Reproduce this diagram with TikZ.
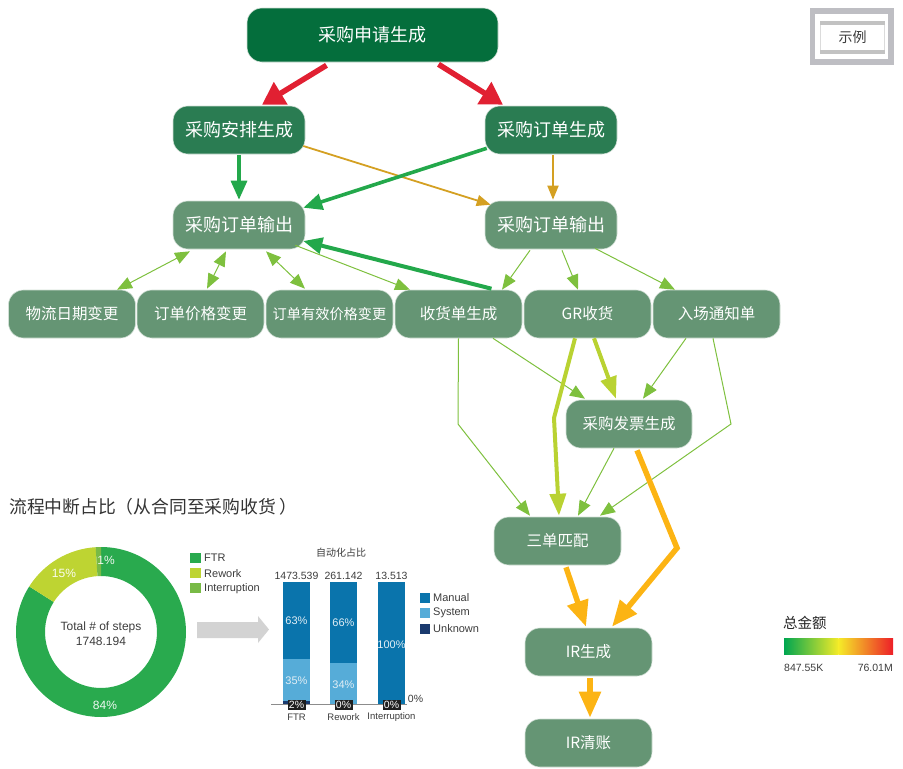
\documentclass[tikz,border=0pt]{standalone}
\usepackage{fontspec}
\setmainfont{Liberation Sans}
\newfontfamily\cjk{Noto Sans CJK SC}
\usetikzlibrary{arrows.meta,calc}
\definecolor{cDark}{RGB}{4,110,60}
\definecolor{cMid}{RGB}{42,124,82}
\definecolor{cNode}{RGB}{101,149,116}
\definecolor{cRed}{RGB}{225,32,50}
\definecolor{cGreen}{RGB}{35,168,75}
\definecolor{cGold}{RGB}{212,160,34}
\definecolor{cThin}{RGB}{126,192,62}
\definecolor{cLime}{RGB}{185,210,50}
\definecolor{cOrange}{RGB}{252,180,20}
\definecolor{cFTR}{RGB}{41,170,78}
\definecolor{cRew}{RGB}{190,212,50}
\definecolor{cInt}{RGB}{120,186,70}
\definecolor{cMan}{RGB}{10,116,172}
\definecolor{cSys}{RGB}{86,172,216}
\definecolor{cUnk}{RGB}{26,58,110}
\definecolor{cTxt}{RGB}{60,60,60}
\definecolor{cGrayA}{RGB}{211,211,211}
\definecolor{cLeg}{RGB}{190,190,195}
\definecolor{cBarG}{RGB}{0,166,80}
\definecolor{cBarY}{RGB}{245,235,40}
\definecolor{cBarR}{RGB}{237,30,40}
\tikzset{
 proc/.style={rounded corners=15pt, text=white, inner sep=0pt, minimum height=48pt,
   minimum width=127pt, fill=cNode, draw=white!70!cNode, line width=0.6pt,
   font=\cjk\fontsize{15.5}{17}\selectfont},
 bigproc/.style={proc, minimum width=132pt, font=\cjk\fontsize{18}{20}\selectfont},
 redarrow/.style={draw=cRed, line width=5.5pt, -{Triangle[length=22pt,width=25pt]}},
 greenarrow/.style={draw=cGreen, line width=3.2pt, -{Triangle[length=19pt,width=16pt]}},
 goldarrow/.style={draw=cGold, line width=1.8pt, -{Triangle[length=14pt,width=11pt]}},
 thinarrow/.style={draw=cThin, line width=1pt, -{Triangle[length=15pt,width=12pt]}},
 thinboth/.style={draw=cThin, line width=1pt, {Triangle[length=15pt,width=12pt]}-{Triangle[length=15pt,width=12pt]}},
 limearrow/.style={draw=cLime, line width=4pt, -{Triangle[length=22pt,width=16pt]}},
 orangearrow/.style={draw=cOrange, line width=5.5pt, -{Triangle[length=26pt,width=21pt]}},
 smalltxt/.style={text=cTxt, inner sep=0pt, font=\fontsize{11}{13}\selectfont},
 bartxt/.style={text=cTxt, inner sep=0pt, font=\fontsize{10.5}{12}\selectfont},
 pcttxt/.style={text=white!88!cMan, inner sep=0pt, font=\fontsize{11}{13}\selectfont},
 blackbox/.style={fill=black!88, text=white, inner sep=0pt, minimum width=18pt, minimum height=10pt, font=\fontsize{10.5}{11}\selectfont},
}
\begin{document}
\begin{tikzpicture}[x=1pt,y=-1pt]
\useasboundingbox (0,0) rectangle (903,769);
% ---------- process nodes ----------
\node[bigproc, fill=cDark, minimum width=251pt, minimum height=54pt] (req) at (372.5,35) {采购申请生成};
\node[bigproc, fill=cMid] (arr) at (239,130) {采购安排生成};
\node[bigproc, fill=cMid] (ordg) at (551,130) {采购订单生成};
\node[bigproc] (outL) at (239,225) {采购订单输出};
\node[bigproc] (outR) at (551,225) {采购订单输出};
\node[proc] (log) at (72,314) {物流日期变更};
\node[proc] (price) at (200.5,314) {订单价格变更};
\node[proc, font=\cjk\fontsize{14.2}{16}\selectfont] (eff) at (329.5,314) {订单有效价格变更};
\node[proc] (recv) at (458.5,314) {收货单生成};
\node[proc] (gr) at (587.5,314) {GR收货};
\node[proc] (notice) at (716.5,314) {入场通知单};
\node[proc, minimum width=126pt] (inv) at (629,424) {采购发票生成};
\node[proc] (match) at (557.5,541) {三单匹配};
\node[proc] (irg) at (588.5,652) {IR生成};
\node[proc] (irc) at (588.5,743) {IR清账};
% ---------- bend points ----------
\coordinate (b1) at (458,424);
\coordinate (b2) at (554,418);
\coordinate (b3) at (731,424);
\coordinate (b4) at (677,548);
% ---------- connectors ----------
\draw[redarrow] ($(req.south)+(-46,3)$) -- ($(arr.north)+(23,-1)$);
\draw[redarrow] ($(req.south)+(66,2)$) -- ($(ordg.north)+(-48,-1)$);
\draw[greenarrow] ($(arr.south)+(0,1)$) -- ($(outL.north)+(0,-1)$);
\draw[goldarrow] ($(arr.east)+(-2,16)$) -- ($(outR.north west)+(6,4)$);
\draw[goldarrow] ($(ordg.south)+(2,1)$) -- ($(outR.north)+(2,-1)$);
\draw[greenarrow, line width=3.6pt] ($(ordg.south west)+(2,-6)$) -- ($(outL.north east)+(-2,7)$);
\draw[greenarrow, line width=4pt] ($(recv.north)+(33,-1)$) -- ($(outL.east)+(-2,16)$);
\draw[thinboth] ($(outL.south)+(-49,2)$) -- ($(log.north)+(45,0)$);
\draw[thinboth] ($(outL.south)+(-13,2)$) -- ($(price.north)+(6.5,-1)$);
\draw[thinboth] ($(outL.south)+(27,2)$) -- ($(eff.north)+(-24.5,-1)$);
\draw[thinarrow] ($(outL.south east)+(-10,-4)$) -- ($(recv.north)+(-48.5,0)$);
\draw[thinarrow] ($(outR.south)+(-21,1)$) -- ($(recv.north)+(43.5,0)$);
\draw[thinarrow] ($(outR.south)+(11,1)$) -- ($(gr.north)+(-9.5,0)$);
\draw[thinarrow] ($(outR.south)+(44,-1)$) -- ($(notice.north)+(-41.5,0)$);
\draw[thinarrow] ($(recv.south)+(0,0)$) -- (b1) -- ($(match.north)+(-27.5,-1)$);
\draw[thinarrow] ($(recv.south)+(34.5,0)$) -- ($(inv.north)+(-44,-1)$);
\draw[thinarrow] ($(notice.south)+(-30.5,0)$) -- ($(inv.north)+(14,-1)$);
\draw[thinarrow] ($(notice.south)+(-3.5,0)$) -- (b3) -- ($(match.north)+(42.5,-1)$);
\draw[thinarrow] ($(inv.south)+(-15,0)$) -- ($(match.north)+(20.5,-1)$);
\draw[limearrow, line join=miter] ($(gr.south)+(-12.5,0)$) -- (b2) -- ($(match.north)+(1.5,-1)$);
\draw[limearrow] ($(gr.south)+(6.5,0)$) -- ($(inv.north)+(-13,-1)$);
\draw[orangearrow, line join=miter] ($(inv.south)+(8,2)$) -- (b4) -- ($(irg.north)+(23.5,-1)$);
\draw[orangearrow] ($(match.south)+(8.5,2)$) -- ($(irg.north)+(-2.5,-1)$);
\draw[orangearrow] ($(irg.south)+(1.5,2)$) -- ($(irc.north)+(1.5,-1)$);
% ---------- legend box top right ----------
\fill[cLeg] (810,8) rectangle (894,65);
\fill[white] (815,14) rectangle (888,59);
\fill[black!14] (820,21) rectangle (885,54);
\fill[black!24] (820,21) rectangle (885,25);
\fill[black!24] (820,50) rectangle (885,54);
\fill[white] (821,25) rectangle (884,50);
\node[inner sep=0pt, text=cTxt, font=\cjk\fontsize{14}{16}\selectfont] (legtitle) at (852.5,37.5) {示例};
% ---------- title ----------
\node[anchor=west, inner sep=0pt, text=black!80, font=\cjk\fontsize{17.8}{20}\selectfont] (title) at (9,507) {流程中断占比（从合同至采购收货\hspace{3pt}）};
% ---------- donut ----------
\begin{scope}[shift={(101,632)}]
\fill[cFTR] (-90:85) arc[start angle=-90,end angle=212.4,radius=85] -- (212.4:56) arc[start angle=212.4,end angle=-90,radius=56] -- cycle;
\fill[cRew] (212.4:85) arc[start angle=212.4,end angle=266.4,radius=85] -- (266.4:56) arc[start angle=266.4,end angle=212.4,radius=56] -- cycle;
\fill[cInt] (266.4:85) arc[start angle=266.4,end angle=270,radius=85] -- (270:56) arc[start angle=270,end angle=266.4,radius=56] -- cycle;
\end{scope}
\node[smalltxt, text=white!92!cFTR, font=\fontsize{12}{14}\selectfont] (p1) at (106,560) {1\%};
\node[smalltxt, text=white!92!cRew, font=\fontsize{12}{14}\selectfont] (p15) at (64,573) {15\%};
\node[smalltxt, text=white!92!cFTR, font=\fontsize{12}{14}\selectfont] (p84) at (105,705) {84\%};
\node[smalltxt, align=center, font=\fontsize{12}{15}\selectfont] (total) at (101,634) {Total \# of steps\\1748.194};
% donut legend
\fill[cFTR] (190,553) rectangle (201,563);
\fill[cRew] (190,568) rectangle (201,578);
\fill[cInt] (190,583) rectangle (201,593);
\node[smalltxt, anchor=west] (lftr) at (204,558) {FTR};
\node[smalltxt, anchor=west] (lrew) at (204,573.5) {Rework};
\node[smalltxt, anchor=west] (lint) at (204,589) {Interruption};
% gray block arrow
\fill[cGrayA] (197,622) -- (258,622) -- (258,616) -- (269,629.5) -- (258,643) -- (258,638) -- (197,638) -- cycle;
% ---------- bar chart ----------
\node[inner sep=0pt, text=cTxt, font=\cjk\fontsize{10}{12}\selectfont] (bctitle) at (341,553) {自动化占比};
\fill[cMan] (283,582) rectangle (310,659);
\fill[cSys] (283,659) rectangle (310,701);
\fill[cUnk] (283,701) rectangle (310,704);
\fill[cMan] (330,582) rectangle (357,663);
\fill[cSys] (330,663) rectangle (357,704);
\fill[cMan] (378,582) rectangle (405,704);
\draw[black!45, line width=1.2pt] (271,704.5) -- (407,704.5);
\node[bartxt] (v1) at (296.5,576) {1473.539};
\node[bartxt] (v2) at (343.5,576) {261.142};
\node[bartxt] (v3) at (391.5,576) {13.513};
\node[pcttxt] (m1) at (296.5,621) {63\%};
\node[pcttxt] (s1) at (296.5,681) {35\%};
\node[pcttxt] (m2) at (343.5,623) {66\%};
\node[pcttxt] (s2) at (343.5,685) {34\%};
\node[pcttxt] (m3) at (391.5,645) {100\%};
\node[blackbox] (u1) at (296.5,705) {2\%};
\node[blackbox] (u2) at (343.5,705) {0\%};
\node[blackbox] (u3) at (391.5,705) {0\%};
\node[bartxt] (z3) at (415.5,698.5) {0\%};
\node[bartxt, font=\fontsize{9.5}{11}\selectfont] (c1) at (296.5,717.5) {FTR};
\node[bartxt, font=\fontsize{9.5}{11}\selectfont] (c2) at (343.5,717.5) {Rework};
\node[bartxt, font=\fontsize{9.5}{11}\selectfont] (c3) at (391.5,717.5) {Interruption};
\fill[cMan] (420,593) rectangle (430,603);
\fill[cSys] (420,608) rectangle (430,618);
\fill[cUnk] (420,624) rectangle (430,634);
\node[smalltxt, anchor=west] (lman) at (433,598) {Manual};
\node[smalltxt, anchor=west] (lsys) at (433,613) {System};
\node[smalltxt, anchor=west] (lunk) at (433,629) {Unknown};
% ---------- colour scale ----------
\node[anchor=west, inner sep=0pt, text=black!85, font=\cjk\fontsize{14.5}{16}\selectfont] (sumtitle) at (783,623) {总金额};
\shade[left color=cBarG, right color=cBarY] (784,638) rectangle (838.6,654);
\shade[left color=cBarY, right color=cBarR] (838.5,638) rectangle (893,654);
\node[bartxt, anchor=west] (smin) at (784,668) {847.55K};
\node[bartxt, anchor=east] (smax) at (893,668) {76.01M};
\end{tikzpicture}
\end{document}
